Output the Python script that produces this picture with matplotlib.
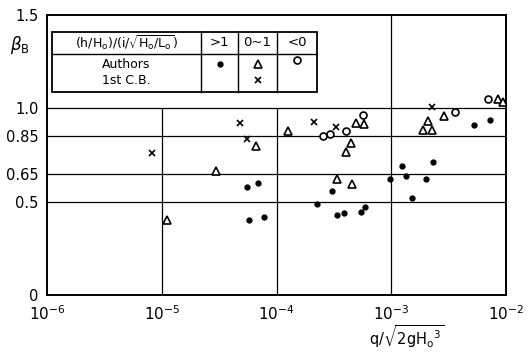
import matplotlib
matplotlib.use("Agg")
import matplotlib.pyplot as plt
from matplotlib.patches import Rectangle

# ---- data ----
dots_x = [5.5e-5, 6.9e-5, 5.75e-5, 7.8e-5, 2.27e-4, 3.05e-4, 3.34e-4, 3.85e-4, 5.4e-4,
          5.95e-4, 9.7e-4, 1.23e-3, 1.34e-3, 1.53e-3, 2.0e-3, 2.3e-3, 5.3e-3, 7.2e-3]
dots_y = [0.58, 0.60, 0.40, 0.42, 0.49, 0.555, 0.43, 0.44, 0.445,
          0.47, 0.62, 0.69, 0.64, 0.52, 0.62, 0.71, 0.91, 0.94]

tri_x = [1.12e-5, 3.0e-5, 6.6e-5, 1.26e-4, 4.9e-4, 5.8e-4, 4.45e-4, 4.05e-4, 3.34e-4,
         4.57e-4, 2.1e-3, 1.88e-3, 2.28e-3, 2.88e-3, 8.5e-3, 9.5e-3]
tri_y = [0.40, 0.665, 0.80, 0.88, 0.92, 0.915, 0.815, 0.765, 0.62,
         0.595, 0.93, 0.885, 0.885, 0.96, 1.05, 1.035]

circ_x = [2.54e-4, 2.92e-4, 4.04e-4, 5.7e-4, 3.6e-3, 7.0e-3]
circ_y = [0.85, 0.865, 0.88, 0.965, 0.98, 1.05]

cross_x = [8.3e-6, 4.8e-5, 5.5e-5, 2.14e-4, 3.3e-4, 2.28e-3]
cross_y = [0.76, 0.92, 0.835, 0.925, 0.90, 1.005]

xticks = [1e-6, 1e-5, 1e-4, 1e-3, 1e-2]
xticklabels = [r"$10^{-6}$", r"$10^{-5}$", r"$10^{-4}$", r"$10^{-3}$", r"$10^{-2}$"]
yticks = [0, 0.5, 0.65, 0.85, 1.0, 1.5]
yticklabels = ["0", "0.5", "0.65", "0.85", "1.0", "1.5"]

# ---- figure ----
plt.rcParams['mathtext.fontset'] = 'dejavusans'
fig = plt.figure(figsize=(5.32, 3.54), dpi=100)
ax = fig.add_axes([47/532, 59/354, 459/532, 280/354])
ax.set_xscale('log')
ax.set_xlim(1e-6, 1e-2)
ax.set_ylim(0, 1.5)

for s in ax.spines.values():
    s.set_linewidth(1.4)
    s.set_color('black')

# grid
for yv in [0.5, 0.65, 0.85, 1.0]:
    ax.axhline(yv, color='black', lw=0.9, zorder=1)
ax.vlines([1e-5, 1e-4], 0, 1.0, color='black', lw=0.9, zorder=1)
ax.vlines([1e-3], 0, 1.5, color='black', lw=0.9, zorder=1)

ax.set_xticks(xticks)
ax.set_xticklabels(xticklabels, fontsize=11)
ax.set_yticks(yticks)
ax.set_yticklabels(yticklabels, fontsize=10.5)
ax.minorticks_off()
ax.tick_params(axis='x', length=0, pad=7)
ax.tick_params(axis='y', length=0, pad=6)

# markers
ax.plot(dots_x, dots_y, 'o', ms=3.5, color='black', ls='none', zorder=3)
ax.plot(tri_x, tri_y, '^', ms=5.5, mfc='white', mec='black', mew=1.2, ls='none', zorder=3)
ax.plot(circ_x, circ_y, 'o', ms=5, mfc='white', mec='black', mew=1.2, ls='none', zorder=3)
ax.plot(cross_x, cross_y, 'x', ms=5, color='black', mew=1.2, ls='none', zorder=3)

# legend table (axes coords)
T = ax.transAxes
tx0, tx1 = 5/459, 270/459
ty0, ty1 = (295-92)/280, (295-32)/280
ysep = (295-54)/280
cseps = [(201-47)/459, (238-47)/459, (277-47)/459]
ax.add_patch(Rectangle((tx0, ty0), tx1-tx0, ty1-ty0, transform=T, fc='white',
                       ec='black', lw=1.3, zorder=4))
ax.plot([tx0, tx1], [ysep, ysep], transform=T, color='black', lw=1.0, zorder=5)
for c in cseps:
    ax.plot([c, c], [ty0, ty1], transform=T, color='black', lw=1.0, zorder=5)

yh = (295-43)/280
ax.text((tx0+cseps[0])/2, yh, r"$\mathrm{(h/H_o)/(i/\sqrt{H_o/L_o})}$", transform=T,
        ha='center', va='center', fontsize=9, zorder=6)
ax.text((cseps[0]+cseps[1])/2, yh, ">1", transform=T, ha='center', va='center', fontsize=9.5, zorder=6)
ax.text((cseps[1]+cseps[2])/2, yh, "0~1", transform=T, ha='center', va='center', fontsize=9.5, zorder=6)
ax.text((cseps[2]+tx1)/2, yh, "<0", transform=T, ha='center', va='center', fontsize=9.5, zorder=6)

ya = (295-64)/280
yb = (295-80)/280
ax.text((tx0+cseps[0])/2, ya, "Authors", transform=T, ha='center', va='center', fontsize=9, zorder=6)
ax.text((tx0+cseps[0])/2, yb, "1st C.B.", transform=T, ha='center', va='center', fontsize=9, zorder=6)
ax.plot([(cseps[0]+cseps[1])/2], [ya], 'o', ms=3.5, color='black', transform=T, zorder=6)
ax.plot([(cseps[1]+cseps[2])/2], [ya], '^', ms=5.5, mfc='white', mec='black', mew=1.2, transform=T, zorder=6)
ax.plot([(cseps[1]+cseps[2])/2], [yb], 'x', ms=5, color='black', mew=1.2, transform=T, zorder=6)
ax.plot([(cseps[2]+tx1)/2], [(295-60)/280], 'o', ms=5, mfc='white', mec='black', mew=1.2, transform=T, zorder=6)

# axis labels
fig.text(20/532, 1-45/354, r"$\beta_{\mathrm{B}}$", ha='center', va='center', fontsize=12)
fig.text(407/532, 1-337/354, r"$\mathrm{q/\sqrt{2gH_o{}^3}}$", ha='center', va='center', fontsize=10.5)

fig.savefig("out.png", dpi=100)
